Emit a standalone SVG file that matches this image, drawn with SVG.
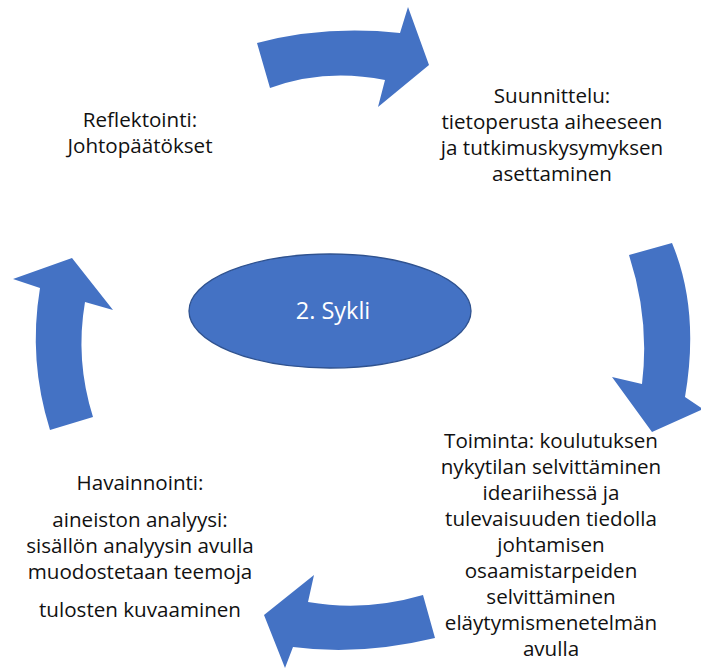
<svg xmlns="http://www.w3.org/2000/svg" width="701" height="670" viewBox="0 0 701 670">
  <style>
    .arrow { fill: #4472C4; stroke: none; }
    .lbl { font-family: "Open Sans", "Noto Sans", sans-serif; font-size: 20.6px; fill: #111; text-anchor: middle; }
    .hub { fill: #4472C4; stroke: #2F528F; stroke-width: 1.3; }
    .hubtxt { font-family: "Open Sans", "Noto Sans", sans-serif; font-size: 23.5px; fill: #fff; text-anchor: middle; }
  </style>
  <rect width="701" height="670" fill="#fff"/>
  <g id="connectors">
    <path id="arrow-top" class="arrow" d="M257,43 Q325,25 400,33 L408,7 L429,65 L378,107 L385,80 Q325,68 270,88 Z"/>
    <path id="arrow-right" class="arrow" d="M629,255 L672,243 Q700,310 685,397 L703,409 L652,432 L612,377 L642,384 Q650,320 629,255 Z"/>
    <path id="arrow-bottom" class="arrow" d="M423,595 L435,638 Q360,656 293,647 L285,668 L264,615 L314,575 L308,602 Q365,612 423,595 Z"/>
    <path id="arrow-left" class="arrow" d="M50,430 L93,417 Q75,360 85,302 L113,310 L72,258 L13,279 L40,288 Q28,360 50,430 Z"/>
  </g>
  <g id="node-cycle">
    <ellipse class="hub" cx="330" cy="311" rx="141" ry="57"/>
    <text class="hubtxt" x="333" y="319">2. Sykli</text>
  </g>
  <g id="node-planning">
    <text class="lbl" x="552" y="103">Suunnittelu:</text>
    <text class="lbl" x="552" y="129">tietoperusta aiheeseen</text>
    <text class="lbl" x="552" y="155">ja tutkimuskysymyksen</text>
    <text class="lbl" x="552" y="181">asettaminen</text>
  </g>
  <g id="node-action">
    <text class="lbl" x="551" y="448">Toiminta: koulutuksen</text>
    <text class="lbl" x="551" y="474">nykytilan selvittäminen</text>
    <text class="lbl" x="551" y="500">ideariihessä ja</text>
    <text class="lbl" x="551" y="526">tulevaisuuden tiedolla</text>
    <text class="lbl" x="551" y="552">johtamisen</text>
    <text class="lbl" x="551" y="578">osaamistarpeiden</text>
    <text class="lbl" x="551" y="604">selvittäminen</text>
    <text class="lbl" x="551" y="630">eläytymismenetelmän</text>
    <text class="lbl" x="551" y="656">avulla</text>
  </g>
  <g id="node-observation">
    <text class="lbl" x="140" y="490">Havainnointi:</text>
    <text class="lbl" x="140" y="527">aineiston analyysi:</text>
    <text class="lbl" x="140" y="553">sisällön analyysin avulla</text>
    <text class="lbl" x="140" y="579">muodostetaan teemoja</text>
    <text class="lbl" x="140" y="617">tulosten kuvaaminen</text>
  </g>
  <g id="node-reflection">
    <text class="lbl" x="140" y="127">Reflektointi:</text>
    <text class="lbl" x="140" y="153">Johtopäätökset</text>
  </g>
</svg>
